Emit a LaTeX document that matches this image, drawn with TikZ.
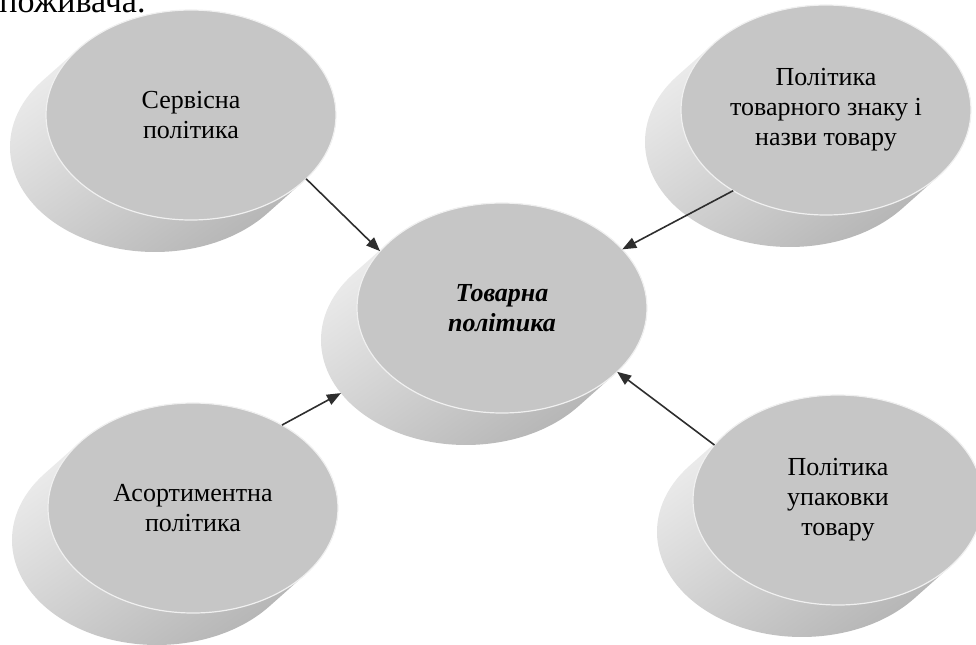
\documentclass[tikz,border=0pt]{standalone}
\usepackage{fontspec}
\setmainfont{Liberation Serif}
\usetikzlibrary{arrows.meta,calc,shapes.geometric}
\definecolor{discface}{HTML}{C6C6C6}
\definecolor{disclight}{HTML}{F2F2F2}
\definecolor{discdark}{HTML}{B0B0B0}
\definecolor{linkgray}{HTML}{2E2E2E}
% side of a disc: hull of the face and its copy moved by (-36,32);
% 112.4,66.3 is where the face is tangent to that shift
\newcommand{\discside}[2]{%
  \node[disc] (#1) at ($(#2)+(-36,32)$) {};
  \path[sideface] ($(#2)+(112.4,66.3)$) -- ++(-36,32)
    arc[start angle=-39.17,end angle=-219.17,x radius=72.5pt,y radius=52.5pt]
    -- ++(36,-32)
    arc[start angle=140.83,end angle=-39.17,x radius=72.5pt,y radius=52.5pt] -- cycle;
}

\begin{document}
\begin{tikzpicture}[
  x=0.5pt,y=-0.5pt,
  disc/.style={ellipse,minimum width=145pt,minimum height=105pt,inner sep=0pt,outer sep=0pt},
  sideface/.style={top color=disclight,bottom color=discdark,shading angle=35},
  face/.style={disc,fill=discface,draw=black!6,line width=0.6pt,align=center,
               font=\fontsize{13}{15}\selectfont},
  link/.style={line width=0.8pt,linkgray,-{Triangle[length=7pt,width=5.5pt]}},
  doctext/.style={font=\fontsize{17}{20}\selectfont,inner sep=0pt}
]
  \useasboundingbox (0,0) rectangle (976,644);

  \node[doctext,anchor=base west] (frag) at (-16,12) {споживача.};

  % the five discs
  \discside{srvside}{191,115}
  \node[face] (srv) at (191,115) {Сервісна\\політика};

  \discside{brandside}{826,110}
  \node[face] (brand) at (826,110) {Політика\\товарного знаку і\\назви товару};

  \discside{asortside}{193,508}
  \node[face] (asort) at (193,508) {Асортиментна\\політика};

  \discside{packside}{838,500}
  \node[face] (pack) at (838,500) {Політика\\упаковки\\товару};

  \discside{tovside}{502,308}
  \node[face,font=\fontsize{13}{15}\selectfont\bfseries\itshape] (tov) at (502,308)
    {Товарна\\політика};

  % arrows into the centre
  \draw[link] (srv.-29) -- (tov.155);
  \draw[link] (brand.221) -- (tov.26);
  \draw[link] (asort.43) -- (tovside.203);
  \draw[link] (pack.156) -- (tov.-29);
\end{tikzpicture}
\end{document}
